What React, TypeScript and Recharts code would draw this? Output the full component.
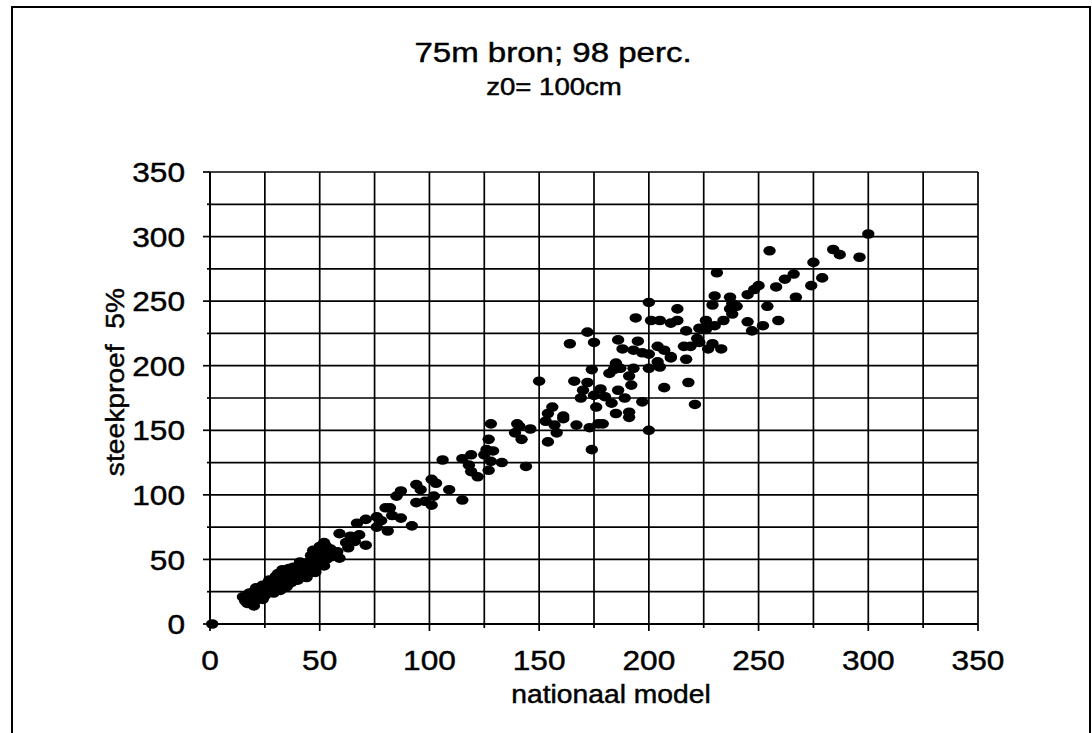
import React from 'react';
import { ScatterChart, Scatter, XAxis, YAxis, CartesianGrid } from 'recharts';

// ---- data (nationaal model, steekproef 5%) ----
const origin: [number, number][] = [[1, 0]];

const lowBand: [number, number][] = [
  [17, 16], [15, 21], [21, 21], [18, 24], [21, 28], [24, 30], [27, 26], [27, 34], [32, 32], [30, 37],
  [36, 38], [33, 42], [40, 41], [38, 44], [45, 44], [41, 48], [49, 46], [52, 50], [55, 52], [59, 51],
  [46, 53], [47, 57], [50, 60], [52, 63], [63, 59],
  [18, 18], [19, 20], [20, 17], [22, 19], [22, 23], [23, 21], [24, 24], [25, 22], [25, 27], [26, 24],
  [27, 29], [28, 25], [28, 28], [29, 27], [30, 30], [30, 26], [31, 29], [32, 34], [33, 30], [33, 28],
  [34, 32], [35, 35], [35, 31], [36, 33], [37, 36], [37, 32], [38, 34], [39, 38], [39, 35], [40, 37],
  [41, 36], [42, 40], [42, 38], [43, 42], [44, 39], [45, 41], [46, 40], [47, 44], [48, 42], [48, 47],
  [49, 50], [50, 52], [51, 55], [51, 48], [52, 57], [53, 50], [54, 54], [53, 60], [56, 55], [57, 53],
  [58, 56], [55, 58], [52, 45], [45, 48], [44, 46], [31, 39], [26, 31], [23, 27], [20, 25], [19, 22],
  [34, 40], [36, 43], [16, 18], [20, 14], [24, 19], [29, 24], [32, 26], [35, 29], [40, 34], [44, 36],
  [48, 40], [29, 33], [34, 37], [38, 41], [43, 45], [26, 28], [23, 25],
];

const midCluster: [number, number][] = [
  [98, 95], [82, 90], [76, 83], [71, 81], [67, 78], [76, 75], [59, 70], [64, 68], [68, 69], [62, 63],
  [66, 64], [71, 61],
  [80, 90], [83, 84], [87, 82], [78, 80], [92, 76], [81, 72],
  [101, 112], [103, 109], [94, 108], [87, 103], [96, 104], [109, 104], [102, 99], [85, 99], [94, 94],
  [101, 92], [115, 96],
  [128, 155], [127, 143], [126, 135], [129, 134], [125, 131], [128, 126], [133, 125], [127, 119],
  [119, 131], [115, 128], [106, 127], [118, 123], [119, 118], [122, 114],
  [140, 155], [139, 148], [161, 159],
];

const upperCluster: [number, number][] = [
  [172, 226], [164, 217], [175, 218], [210, 207], [187, 198], [174, 197], [150, 188], [166, 188],
  [172, 187], [170, 181], [175, 177], [169, 175], [176, 168], [156, 168], [154, 163], [161, 161],
  [153, 157], [157, 154], [167, 154], [177, 155], [173, 152], [146, 151], [141, 153], [158, 148],
  [154, 141], [174, 135], [142, 143], [144, 122], [201, 235],
  [300, 302], [284, 290], [287, 286], [296, 284], [275, 280], [279, 268], [274, 262], [266, 271],
  [262, 267], [255, 289], [258, 261], [267, 253], [250, 262], [248, 259], [245, 255], [254, 246],
  [259, 235], [252, 231], [247, 227], [245, 234], [231, 272], [230, 254], [229, 247], [237, 253],
  [238, 248], [240, 246], [237, 244], [238, 240], [234, 235], [230, 231], [226, 235], [225, 229],
  [223, 229], [226, 228], [217, 227], [222, 221], [223, 218], [216, 215], [219, 215], [227, 213],
  [229, 217], [233, 213], [217, 205], [218, 187], [221, 170], [207, 183], [213, 244], [213, 235],
  [210, 233], [205, 235], [200, 249], [194, 237], [186, 220], [195, 219], [188, 213], [193, 212],
  [197, 210], [200, 209], [204, 215], [207, 212], [210, 206], [204, 203], [205, 199], [200, 198],
  [193, 198], [185, 202], [184, 197], [182, 194], [191, 192], [192, 185], [186, 181], [178, 182],
  [180, 176], [183, 171], [189, 175], [197, 172], [185, 163], [191, 164], [191, 160], [179, 155],
  [200, 150],
];

const xTicks = [0, 25, 50, 75, 100, 125, 150, 175, 200, 225, 250, 275, 300, 325, 350];
const yTicks = [0, 25, 50, 75, 100, 125, 150, 175, 200, 225, 250, 275, 300, 325, 350];
const majorTicks = [0, 50, 100, 150, 200, 250, 300, 350];

const titleText = '75m bron; 98 perc.';
const subtitleText = 'z0= 100cm';
const xLabelText = 'nationaal model';
const yLabelText = 'steekproef  5%';

const data = [...origin, ...lowBand, ...midCluster, ...upperCluster].map(([x, y]) => ({ x, y }));

const FONT = '"Liberation Sans", Arial, Helvetica, sans-serif';
const TXT = { fontFamily: FONT, fill: '#000', stroke: '#000', strokeWidth: 0.45, style: { whiteSpace: 'pre' as const } };

const XTick = (props: any) => {
  const { x, y, payload } = props;
  const major = majorTicks.includes(payload.value);
  return (
    <g>
      <line x1={x} y1={y} x2={x} y2={y + (major ? 7 : 4)} stroke="#000" strokeWidth={1.7} />
      {major && (
        <text
          transform={`translate(${x},${y + 36}) scale(1.13,1)`}
          textAnchor="middle"
          dy="0.36em"
          fontSize={28}
          {...TXT}
        >
          {payload.value}
        </text>
      )}
    </g>
  );
};

const YTick = (props: any) => {
  const { x, y, payload } = props;
  const major = majorTicks.includes(payload.value);
  return (
    <g>
      <line x1={x - (major ? 7 : 3)} y1={y} x2={x} y2={y} stroke="#000" strokeWidth={1.7} />
      {major && (
        <text
          transform={`translate(${x - 25},${y}) scale(1.13,1)`}
          textAnchor="end"
          dy="0.36em"
          fontSize={28}
          {...TXT}
        >
          {payload.value}
        </text>
      )}
    </g>
  );
};

const Dot = (props: any) => {
  const { cx, cy } = props;
  if (cx == null || cy == null) return null;
  return <ellipse cx={cx} cy={cy} rx={6.2} ry={4.8} fill="#000" />;
};

export default function App() {
  return (
    <div style={{ position: 'absolute', left: 0, top: 0, width: 1092, height: 733, background: '#fff' }}>
      <ScatterChart width={1092} height={733} margin={{ top: 172, right: 114, bottom: 49, left: 150 }}>
        <CartesianGrid stroke="#000" strokeWidth={1.7} strokeOpacity={1} />
        <XAxis
          type="number"
          dataKey="x"
          domain={[0, 350]}
          ticks={xTicks}
          interval={0}
          height={60}
          tickSize={0}
          tickMargin={0}
          tickLine={false}
          axisLine={{ stroke: '#000', strokeWidth: 1.8 }}
          tick={<XTick />}
        />
        <YAxis
          type="number"
          dataKey="y"
          domain={[0, 350]}
          ticks={yTicks}
          interval={0}
          width={60}
          tickSize={0}
          tickMargin={0}
          tickLine={false}
          axisLine={{ stroke: '#000', strokeWidth: 1.8 }}
          tick={<YTick />}
        />
        <Scatter data={data} fill="#000" shape={<Dot />} isAnimationActive={false} />
      </ScatterChart>
      <svg
        width={1092}
        height={733}
        style={{ position: 'absolute', left: 0, top: 0, pointerEvents: 'none' }}
      >
        <rect x={12} y={7} width={1078} height={740} fill="none" stroke="#000" strokeWidth={2} />
        <text transform="translate(553,62) scale(1.18,1)" textAnchor="middle" fontSize={28} {...TXT}>
          {titleText}
        </text>
        <text transform="translate(554,95) scale(1.2,1)" textAnchor="middle" fontSize={23} {...TXT}>
          {subtitleText}
        </text>
        <text transform="translate(611,703) scale(1.13,1)" textAnchor="middle" fontSize={25} {...TXT}>
          {xLabelText}
        </text>
        <text
          transform="translate(124,382) rotate(-90) scale(1.13,1)"
          textAnchor="middle"
          fontSize={25}
          {...TXT}
        >
          {yLabelText}
        </text>
      </svg>
    </div>
  );
}
